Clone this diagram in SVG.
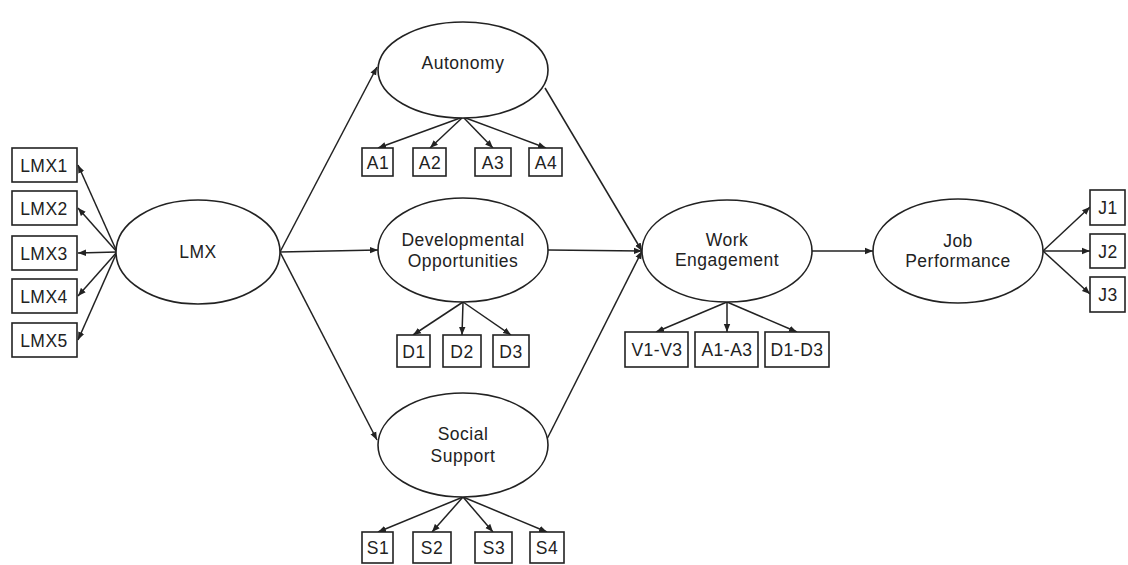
<svg xmlns="http://www.w3.org/2000/svg" width="1128" height="565" viewBox="0 0 1128 565">
<style>
.e{fill:#fff;stroke:#222;stroke-width:1.6}
.b{fill:#fff;stroke:#222;stroke-width:1.6}
.t{font-family:"Liberation Sans",Arial,sans-serif;font-size:17.5px;letter-spacing:0.5px;fill:#222;text-anchor:middle}
.c line{stroke:#222;stroke-width:1.5;marker-end:url(#ah)}
</style>
<defs>
<marker id="ah" viewBox="0 0 10 10" refX="10" refY="5" markerWidth="8" markerHeight="8" orient="auto" markerUnits="userSpaceOnUse">
<path d="M0,1 L10,5 L0,9 z" fill="#222"/>
</marker>
</defs>
<rect width="1128" height="565" fill="#fff"/>
<g class="c" id="connectors">
<line x1="117" y1="252" x2="78" y2="165"/>
<line x1="117" y1="252" x2="78" y2="208"/>
<line x1="117" y1="252" x2="78" y2="253"/>
<line x1="117" y1="252" x2="78" y2="296"/>
<line x1="117" y1="252" x2="78" y2="340"/>
<line x1="280" y1="252" x2="377" y2="67"/>
<line x1="280" y1="252" x2="378" y2="250"/>
<line x1="280" y1="252" x2="377" y2="440"/>
<line x1="463" y1="117" x2="378" y2="148"/>
<line x1="463" y1="117" x2="430" y2="148"/>
<line x1="463" y1="117" x2="493" y2="148"/>
<line x1="463" y1="117" x2="546" y2="148"/>
<line x1="463" y1="302" x2="413" y2="335"/>
<line x1="463" y1="302" x2="462" y2="335"/>
<line x1="463" y1="302" x2="511" y2="335"/>
<line x1="463" y1="497" x2="378" y2="532"/>
<line x1="463" y1="497" x2="432" y2="532"/>
<line x1="463" y1="497" x2="493" y2="532"/>
<line x1="463" y1="497" x2="547" y2="532"/>
<line x1="545" y1="88" x2="642" y2="251"/>
<line x1="548" y1="250" x2="642" y2="251"/>
<line x1="546" y1="441" x2="642" y2="251"/>
<line x1="727" y1="302" x2="656" y2="332"/>
<line x1="727" y1="302" x2="727" y2="332"/>
<line x1="727" y1="302" x2="797" y2="332"/>
<line x1="812" y1="251" x2="873" y2="251"/>
<line x1="1043" y1="251" x2="1090" y2="207"/>
<line x1="1043" y1="251" x2="1090" y2="251"/>
<line x1="1043" y1="251" x2="1090" y2="294"/>
</g>
<g id="LMX"><ellipse class="e" cx="198" cy="252" rx="82" ry="52"/><text class="t" x="198" y="258">LMX</text></g>
<g id="LMX1"><rect class="b" x="12" y="148" width="65" height="34"/><text class="t" x="44" y="172">LMX1</text></g>
<g id="LMX2"><rect class="b" x="12" y="191" width="65" height="34"/><text class="t" x="44" y="215">LMX2</text></g>
<g id="LMX3"><rect class="b" x="12" y="236" width="65" height="34"/><text class="t" x="44" y="260">LMX3</text></g>
<g id="LMX4"><rect class="b" x="12" y="279" width="65" height="34"/><text class="t" x="44" y="303">LMX4</text></g>
<g id="LMX5"><rect class="b" x="12" y="323" width="65" height="34"/><text class="t" x="44" y="347">LMX5</text></g>
<g id="Autonomy"><ellipse class="e" cx="463" cy="70" rx="85" ry="48"/><text class="t" x="463" y="69">Autonomy</text></g>
<g id="A1"><rect class="b" x="362" y="148" width="31" height="28"/><text class="t" x="378" y="169">A1</text></g>
<g id="A2"><rect class="b" x="413" y="148" width="33" height="28"/><text class="t" x="430" y="169">A2</text></g>
<g id="A3"><rect class="b" x="475" y="148" width="36" height="28"/><text class="t" x="493" y="169">A3</text></g>
<g id="A4"><rect class="b" x="529" y="148" width="33" height="28"/><text class="t" x="546" y="169">A4</text></g>
<g id="DevOpp"><ellipse class="e" cx="463" cy="250" rx="85" ry="52"/><text class="t" x="463" y="246">Developmental</text><text class="t" x="463" y="267">Opportunities</text></g>
<g id="D1"><rect class="b" x="397" y="335" width="33" height="32"/><text class="t" x="414" y="358">D1</text></g>
<g id="D2"><rect class="b" x="443" y="335" width="38" height="32"/><text class="t" x="462" y="358">D2</text></g>
<g id="D3"><rect class="b" x="493" y="335" width="36" height="32"/><text class="t" x="511" y="358">D3</text></g>
<g id="Social"><ellipse class="e" cx="463" cy="445" rx="85" ry="52"/><text class="t" x="463" y="440">Social</text><text class="t" x="463" y="462">Support</text></g>
<g id="S1"><rect class="b" x="362" y="532" width="31" height="31"/><text class="t" x="378" y="554">S1</text></g>
<g id="S2"><rect class="b" x="413" y="532" width="38" height="31"/><text class="t" x="432" y="554">S2</text></g>
<g id="S3"><rect class="b" x="475" y="532" width="37" height="31"/><text class="t" x="494" y="554">S3</text></g>
<g id="S4"><rect class="b" x="530" y="532" width="34" height="31"/><text class="t" x="547" y="554">S4</text></g>
<g id="WorkEngagement"><ellipse class="e" cx="727" cy="251" rx="85" ry="51"/><text class="t" x="727" y="246">Work</text><text class="t" x="727" y="266">Engagement</text></g>
<g id="V1V3"><rect class="b" x="625" y="332" width="63" height="35"/><text class="t" x="657" y="356">V1-V3</text></g>
<g id="A1A3"><rect class="b" x="695" y="332" width="63" height="35"/><text class="t" x="727" y="356">A1-A3</text></g>
<g id="D1D3"><rect class="b" x="765" y="332" width="64" height="35"/><text class="t" x="797" y="356">D1-D3</text></g>
<g id="JobPerformance"><ellipse class="e" cx="958" cy="251" rx="85" ry="52"/><text class="t" x="958" y="247">Job</text><text class="t" x="958" y="267">Performance</text></g>
<g id="J1"><rect class="b" x="1090" y="190" width="35" height="35"/><text class="t" x="1108" y="214">J1</text></g>
<g id="J2"><rect class="b" x="1090" y="234" width="35" height="34"/><text class="t" x="1108" y="258">J2</text></g>
<g id="J3"><rect class="b" x="1090" y="277" width="35" height="35"/><text class="t" x="1108" y="301">J3</text></g>
</svg>
